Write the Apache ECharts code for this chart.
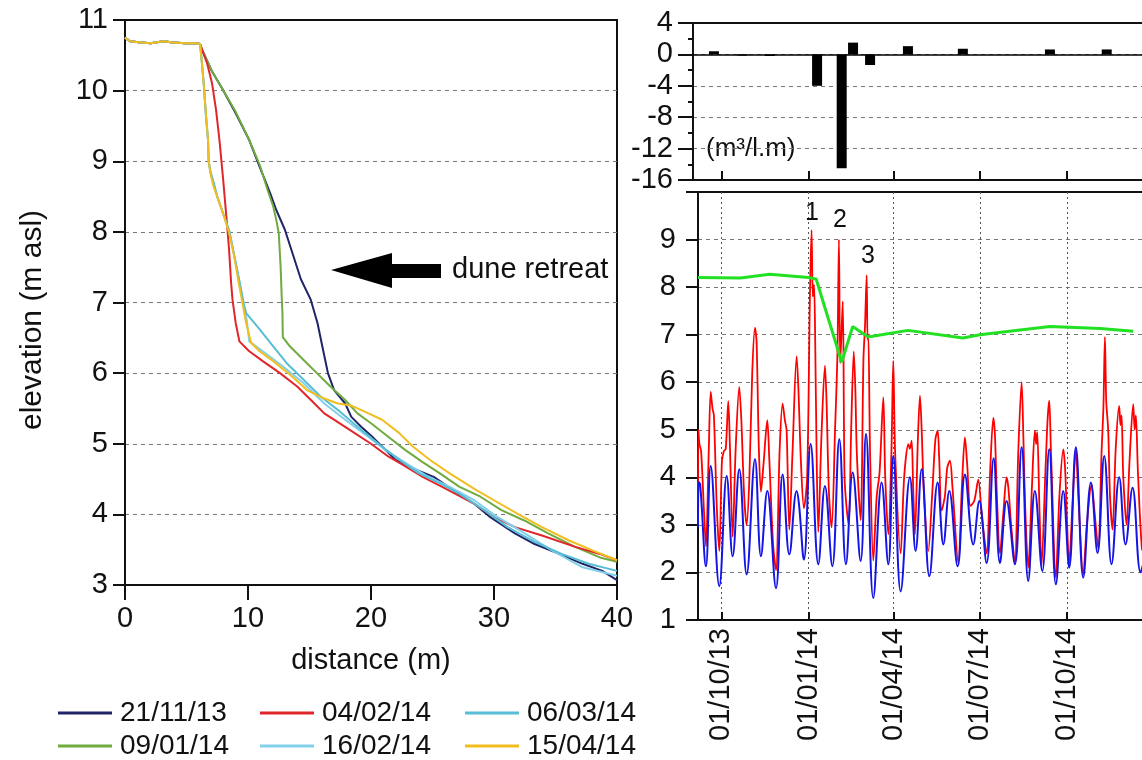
<!DOCTYPE html>
<html>
<head>
<meta charset="utf-8">
<title>Dune retreat</title>
<script src="https://cdn.jsdelivr.net/npm/echarts@6/dist/echarts.min.js"></script>
<style>
  html, body { margin: 0; padding: 0; background: #fff; }
  #chart { width: 1142px; height: 760px; }
</style>
</head>
<body>
<div id="chart"></div>
<script>
// ---- beach profiles: [distance (m), elevation (m asl)] ----
const DUNE_TOP = [[0, 10.75], [0.4, 10.7], [1.3, 10.68], [2.1, 10.67], [3.1, 10.7], [3.9, 10.68], [4.9, 10.67], [5.7, 10.67], [6.1, 10.66]];

const P_211113 = DUNE_TOP.concat([[6.26, 10.58], [7.08, 10.27], [7.9, 10.03], [9.0, 9.68], [10.1, 9.3], [10.95, 8.92], [11.8, 8.55], [12.3, 8.31],
  [13.0, 8.03], [14.3, 7.33], [15.1, 7.04], [15.65, 6.71], [16.1, 6.33], [16.5, 6.0], [17.0, 5.76], [17.9, 5.57], [18.4, 5.38], [19.2, 5.24],
  [20.1, 5.1], [21.2, 4.91], [22.0, 4.77], [23.4, 4.65], [25.1, 4.53], [26.7, 4.34], [28.4, 4.15], [29.7, 3.96], [31.7, 3.73], [33.3, 3.58],
  [35.3, 3.44], [37.2, 3.3], [38.8, 3.2], [40, 3.07]]);

const P_090114 = DUNE_TOP.concat([[6.26, 10.58], [7.08, 10.27], [7.9, 10.03], [9.0, 9.7], [10.1, 9.3], [10.95, 8.95], [11.6, 8.59], [12.05, 8.36],
  [12.3, 8.17], [12.5, 7.98], [12.65, 7.51], [12.75, 7.04], [12.8, 6.85], [12.83, 6.51], [13.4, 6.38], [14.5, 6.19], [15.6, 6.0], [16.7, 5.81],
  [17.9, 5.62], [18.9, 5.43], [20.0, 5.29], [21.4, 5.1], [22.8, 4.91], [24.2, 4.74], [25.6, 4.58], [27.2, 4.39], [28.9, 4.25], [30.6, 4.06],
  [32.5, 3.91], [34.4, 3.73], [36.6, 3.54], [38.6, 3.39], [40, 3.33]]);

const P_040214 = DUNE_TOP.concat([[6.26, 10.58], [6.67, 10.39], [7.08, 10.1], [7.4, 9.73], [7.68, 9.3], [7.96, 8.78], [8.24, 8.22], [8.46, 7.75],
  [8.63, 7.27], [8.74, 7.04], [9.0, 6.71], [9.3, 6.45], [10.1, 6.31], [11.2, 6.17], [12.6, 6.0], [14.0, 5.81], [15.4, 5.57], [16.2, 5.43],
  [17.9, 5.24], [20.0, 5.0], [21.4, 4.82], [22.6, 4.7], [24.2, 4.53], [26.1, 4.36], [28.4, 4.15], [30.0, 3.96], [31.7, 3.82], [33.9, 3.7],
  [36.6, 3.54], [38.6, 3.44], [40, 3.35]]);

const P_160214 = DUNE_TOP.concat([[6.2, 10.5], [6.4, 10.1], [6.6, 9.6], [6.75, 9.3], [6.8, 9.0], [6.95, 8.85], [7.2, 8.7], [7.5, 8.5], [8.0, 8.25],
  [8.5, 8.0], [8.9, 7.65], [9.3, 7.3], [9.6, 7.0], [9.9, 6.75], [10.1, 6.45], [11.2, 6.31], [12.8, 6.1], [14.5, 5.86], [16.2, 5.57], [17.9, 5.34],
  [19.6, 5.12], [21.2, 4.91], [22.9, 4.72], [24.5, 4.55], [26.4, 4.39], [28.4, 4.2], [30.3, 3.96], [32.5, 3.73], [34.7, 3.49], [37.2, 3.25],
  [40, 3.13]]);

const P_060314 = DUNE_TOP.concat([[6.2, 10.5], [6.4, 10.1], [6.6, 9.6], [6.75, 9.3], [6.8, 9.0], [6.95, 8.85], [7.2, 8.7], [7.5, 8.5], [8.0, 8.25],
  [8.5, 8.0], [8.9, 7.65], [9.3, 7.3], [9.7, 6.95], [9.85, 6.85], [10.95, 6.62], [12.05, 6.38], [13.15, 6.14], [14.5, 5.91], [15.9, 5.67],
  [17.3, 5.48], [18.9, 5.24], [20.6, 5.0], [22.3, 4.77], [23.9, 4.58], [25.6, 4.44], [27.2, 4.29], [29.2, 4.06], [31.1, 3.82], [33.3, 3.61],
  [35.5, 3.44], [37.7, 3.3], [40, 3.2]]);

const P_150414 = DUNE_TOP.concat([[6.2, 10.48], [6.4, 10.1], [6.6, 9.63], [6.75, 9.3], [6.8, 9.02], [6.94, 8.83], [7.2, 8.64], [7.6, 8.45],
  [8.05, 8.22], [8.47, 7.98], [8.88, 7.65], [9.25, 7.27], [9.5, 7.04], [9.85, 6.71], [10.25, 6.43], [10.95, 6.31], [12.05, 6.17], [13.4, 5.98],
  [14.8, 5.76], [16.2, 5.64], [17.3, 5.57], [18.4, 5.54], [19.8, 5.43], [20.9, 5.34], [22.3, 5.15], [23.4, 4.96], [24.8, 4.77], [26.4, 4.58],
  [28.4, 4.36], [30.0, 4.2], [32.0, 4.0], [33.9, 3.82], [36.1, 3.63], [38.0, 3.49], [40, 3.35]]);

// ---- time axis: days since 01/10/13 ----
const QUARTER_DAYS = [0, 92, 182, 273, 365];
const QUARTER_LABELS = ['01/10/13', '01/01/14', '01/04/14', '01/07/14', '01/10/14'];

// volume change between surveys (m3/l.m)
const VOLUME_DAYS = [-8, 22, 51, 101, 127, 139, 157, 197, 255, 347, 407];
const VOLUME_CHANGE = [0.4, -0.15, -0.2, -4.0, -14.5, 1.5, -1.35, 1.05, 0.72, 0.63, 0.63];

// total water level (red), [day, m]
const WATER_LEVEL = [[-24.8, 3.4], [-24.4, 5.0], [-23.3, 4.7], [-21.5, 4.55], [-18.5, 3.3], [-16.4, 2.55], [-13.5, 4.5], [-11.4, 5.8],
  [-9.5, 5.45], [-8, 5.3], [-5, 3.4], [-2.3, 2.45], [0.5, 4.35], [2.5, 4.55], [4.5, 4.6], [7.2, 5.6], [9, 4.6], [11.8, 2.75], [15, 4.6],
  [18.8, 5.9], [21, 5.2], [24, 3.6], [26.6, 3.0], [29.5, 4.0], [32.5, 6.2], [35.4, 7.15], [37.1, 6.85], [39.5, 4.6], [41.7, 3.7], [44.5, 4.3],
  [48.4, 5.2], [50.5, 4.4], [54.5, 2.6], [57.6, 2.05], [61.5, 4.6], [64.6, 5.55], [67, 5.2], [68.8, 5.0], [71.7, 2.9], [75, 4.5], [79.4, 6.55],
  [81.2, 5.9], [84, 4.3], [87.1, 3.35], [90.5, 4.0], [93.5, 7.9], [95.2, 9.2], [96.5, 7.8], [97.8, 8.05], [99, 6.9], [100.5, 4.5], [102.3, 2.85],
  [105.5, 4.8], [109.3, 6.35], [111, 5.6], [113.5, 3.7], [116.4, 2.95], [120, 5.0], [122.5, 6.6], [124.1, 9.0], [125.5, 6.4], [128.1, 7.7],
  [130, 4.0], [132.2, 3.36], [134.5, 3.0], [137, 5.0], [139.8, 6.65], [141.5, 5.8], [143, 4.5], [147, 3.1], [150, 6.5], [151.6, 7.16],
  [153.4, 8.25], [154.3, 6.9], [155.1, 7.0], [157, 4.5], [160.4, 2.25], [164, 3.6], [167, 4.1], [171, 5.68], [173, 4.0], [176.3, 2.8],
  [179.5, 4.5], [181.5, 6.45], [183.5, 4.5], [189.3, 2.4], [193, 4.0], [197.4, 4.7], [199, 4.6], [200.9, 4.77], [202.5, 3.8], [204.4, 2.8],
  [207.5, 4.8], [209.7, 5.72], [211.5, 5.0], [214, 3.6], [218.5, 2.45], [222.5, 3.6], [226, 4.8], [228.4, 4.98], [230, 4.4], [232.6, 3.3],
  [236, 3.6], [238.5, 4.2], [241.4, 4.35], [244, 3.8], [250.2, 2.2], [254, 3.8], [257.2, 4.84], [259.5, 4.3], [263, 3.4], [267, 3.5],
  [271.3, 3.95], [275, 3.2], [280.1, 2.4], [284, 4.2], [287.2, 5.25], [288.9, 4.9], [291, 3.6], [294.2, 2.4], [298, 3.3], [301.2, 4.0],
  [303, 3.8], [306, 3.0], [310, 2.2], [313.5, 4.5], [317.1, 6.0], [319, 4.8], [321, 3.3], [324.1, 2.1], [328, 3.8], [331.1, 4.98], [332.5, 4.7],
  [333.6, 4.95], [336, 3.3], [338.2, 2.15], [342, 4.0], [344.5, 5.2], [346.3, 5.61], [348, 4.6], [353.3, 1.9], [357, 3.6], [361.1, 4.59],
  [363, 4.2], [367.4, 2.2], [371, 3.5], [374.4, 4.6], [377, 3.6], [382.2, 1.95], [386, 3.0], [391, 3.85], [394, 3.3], [398, 2.5], [401.5, 4.5],
  [403.5, 5.47], [405.1, 6.95], [406.5, 5.6], [408.6, 4.98], [410.5, 3.6], [413.2, 2.9], [416.5, 4.6], [420.2, 5.5], [421.5, 5.1], [422.7, 5.3],
  [424.5, 4.0], [428, 3.0], [431, 4.3], [435, 5.54], [436.5, 5.0], [437.8, 5.3], [440, 4.1], [444.2, 2.5], [447, 2.4]];

// tide level (blue), [day, m]
const TIDE_LEVEL = [[-24.8, 2.95], [-24.2, 3.9], [-22.5, 3.85], [-16.4, 2.13], [-11.4, 4.24], [-2.3, 1.71], [5.5, 4.03], [11.8, 2.34],
  [18.8, 4.17], [26.6, 1.96], [35.4, 4.38], [41.7, 2.34], [48.4, 3.71], [57.6, 1.67], [64.6, 4.06], [71.7, 2.38], [79.4, 3.71], [81.9, 3.43],
  [87.1, 2.27], [94.2, 4.7], [102.3, 2.17], [109.3, 3.82], [117.1, 2.13], [124.5, 4.8], [131.5, 2.17], [138.6, 4.1], [147, 2.24], [152.7, 4.91],
  [160.4, 1.46], [169.2, 3.89], [176.3, 2.17], [181.5, 4.45], [189.3, 1.6], [199.1, 4.0], [205.1, 2.45], [211.5, 4.17], [219.6, 1.92],
  [228.4, 3.89], [234.4, 2.59], [240.7, 3.71], [249.5, 2.13], [257.2, 4.06], [266, 2.59], [272.4, 3.5], [280.1, 2.2], [287.5, 4.4],
  [294.2, 2.2], [301.2, 3.5], [310, 2.17], [317.1, 4.63], [324.1, 1.82], [331.1, 3.71], [338.9, 2.03], [346.3, 4.59], [353.3, 1.75],
  [361.1, 3.71], [367.4, 2.1], [374.4, 4.63], [382.2, 1.89], [390.3, 3.89], [397.3, 2.41], [404.4, 4.45], [412.1, 2.17], [420.2, 4.0],
  [426.9, 2.59], [434.3, 3.78], [442.8, 2.0], [447, 2.3]];

// dune toe elevation (green), [day, m]
const DUNE_TOE = [[-24.8, 8.2], [20, 8.19], [51, 8.27], [92, 8.2], [100, 8.17], [127, 6.42], [138.6, 7.17], [155, 6.95], [197, 7.09],
  [255, 6.93], [273, 7.0], [347, 7.17], [400, 7.13], [435, 7.07]];

// storm labels
const STORMS = [['1', 95.5, 9.55], ['2', 125.2, 9.4], ['3', 154.8, 8.65]];

const FONT = 'Liberation Sans, Arial, sans-serif';
const INK = '#111';
const FS = 29;

const profiles = [
  { name: '21/11/13', data: P_211113, color: '#1f2566' },
  { name: '09/01/14', data: P_090114, color: '#6fab3f' },
  { name: '04/02/14', data: P_040214, color: '#e0262b' },
  { name: '16/02/14', data: P_160214, color: '#82d0ea' },
  { name: '06/03/14', data: P_060314, color: '#58bdd6' },
  { name: '15/04/14', data: P_150414, color: '#f2bd1e' }
];

// legend slots: [name, left, top]
const legendSlots = [
  ['21/11/13', 58, 699], ['04/02/14', 260, 699], ['06/03/14', 465, 699],
  ['09/01/14', 58, 732], ['16/02/14', 260, 732], ['15/04/14', 465, 732]
];

const chart = echarts.init(document.getElementById('chart'));

const axisLine = { show: true, onZero: false, lineStyle: { color: INK, width: 2 } };
const labelFont = { fontSize: FS, color: INK, fontFamily: FONT };
const dashed = { show: true, showMinLine: false, showMaxLine: false, lineStyle: { color: '#777', type: [4, 4], width: 1 } };

const option = {
  animation: false,
  textStyle: { fontFamily: FONT },
  grid: [
    { left: 125, top: 20, width: 492, height: 565, show: true, borderColor: INK, borderWidth: 2, outerBoundsMode: 'none' },
    { left: 693, top: 23, width: 460, height: 157, show: true, borderColor: INK, borderWidth: 2, outerBoundsMode: 'none' },
    { left: 698, top: 192, width: 455, height: 428, show: true, borderColor: INK, borderWidth: 2, outerBoundsMode: 'none' }
  ],
  legend: legendSlots.map(([name, left, top]) => ({
    data: [name], left: left, top: top, padding: 0, icon: 'rect', itemWidth: 54, itemHeight: 3, itemGap: 0,
    textStyle: { fontSize: 28, color: INK, fontFamily: FONT, padding: [0, 0, 0, 3] }, selectedMode: false
  })),
  xAxis: [
    {
      gridIndex: 0, type: 'value', min: 0, max: 40, interval: 10,
      axisLine: axisLine, axisTick: { length: 15, lineStyle: { color: INK, width: 2 } },
      axisLabel: Object.assign({ margin: 19 }, labelFont), splitLine: { show: false },
      name: 'distance (m)', nameLocation: 'middle', nameGap: 61, nameTextStyle: labelFont
    },
    {
      gridIndex: 1, type: 'value', min: -30.1, max: 455.9,
      axisLine: axisLine, axisTick: { inside: true, length: 9, customValues: QUARTER_DAYS, lineStyle: { color: INK, width: 2 } },
      axisLabel: { show: false }, splitLine: { show: false }
    },
    {
      gridIndex: 2, type: 'value', min: -24.8, max: 455.9,
      axisLine: axisLine, axisTick: { inside: true, length: 8, customValues: QUARTER_DAYS, lineStyle: { color: INK, width: 2 } },
      axisLabel: Object.assign({
        customValues: QUARTER_DAYS, rotate: 90, margin: 8,
        formatter: v => QUARTER_LABELS[QUARTER_DAYS.indexOf(v)] || ''
      }, labelFont),
      splitLine: { show: true, lineStyle: { color: '#555', type: [2, 3], width: 1 } }
    }
  ],
  yAxis: [
    {
      gridIndex: 0, type: 'value', min: 3, max: 11, interval: 1,
      axisLine: axisLine, axisTick: { length: 12, lineStyle: { color: INK, width: 2 } },
      axisLabel: Object.assign({ margin: 17 }, labelFont), splitLine: dashed
    },
    {
      gridIndex: 1, type: 'value', min: -16, max: 4, interval: 4,
      axisLine: axisLine, axisTick: { length: 15, lineStyle: { color: INK, width: 2 } },
      minorTick: { show: true, splitNumber: 2, length: 5, lineStyle: { color: INK, width: 2 } },
      axisLabel: Object.assign({ margin: 20 }, labelFont), splitLine: dashed
    },
    {
      gridIndex: 2, type: 'value', min: 1, max: 10, interval: 1,
      axisLine: axisLine, axisTick: { length: 12, lineStyle: { color: INK, width: 2 } },
      axisLabel: Object.assign({ margin: 22, formatter: v => (v === 10 ? '' : String(v)) }, labelFont),
      splitLine: dashed
    }
  ],
  series: profiles.map(p => ({
    name: p.name, type: 'line', xAxisIndex: 0, yAxisIndex: 0, data: p.data,
    symbol: 'none', color: p.color, lineStyle: { color: p.color, width: 2 }
  })).concat([
    {
      type: 'bar', xAxisIndex: 1, yAxisIndex: 1, barWidth: 10,
      data: VOLUME_DAYS.map((d, i) => [d, VOLUME_CHANGE[i]]),
      itemStyle: { color: '#000' },
      markLine: {
        silent: true, symbol: 'none', label: { show: false },
        lineStyle: { color: '#000', type: 'solid', width: 1.5 }, data: [{ yAxis: 0 }]
      }
    },
    {
      type: 'line', xAxisIndex: 2, yAxisIndex: 2, data: WATER_LEVEL, symbol: 'none', smooth: 0.3,
      lineStyle: { color: '#ff0000', width: 1.8 }
    },
    {
      type: 'line', xAxisIndex: 2, yAxisIndex: 2, data: TIDE_LEVEL, symbol: 'none', smooth: 0.4,
      lineStyle: { color: '#1414e6', width: 2 }
    },
    {
      type: 'line', xAxisIndex: 2, yAxisIndex: 2, data: DUNE_TOE, symbol: 'none',
      lineStyle: { color: '#22e022', width: 3 },
      markPoint: {
        symbol: 'circle', symbolSize: 1, itemStyle: { color: 'rgba(0,0,0,0)' },
        label: { show: true, position: 'inside', fontSize: 25, color: INK, fontFamily: FONT, formatter: p => p.name },
        data: STORMS.map(s => ({ name: s[0], coord: [s[1], s[2]] }))
      }
    }
  ]),
  graphic: [
    {
      type: 'text', x: 33, y: 320, rotation: Math.PI / 2,
      style: { text: 'elevation (m asl)', fontSize: 30, fontFamily: FONT, fill: INK, align: 'center', verticalAlign: 'middle' }
    },
    {
      type: 'polygon',
      shape: { points: [[331, 270], [392, 253], [392, 264], [441, 264], [441, 278], [392, 278], [392, 288]] },
      style: { fill: '#000' }
    },
    {
      type: 'text', x: 452, y: 270,
      style: { text: 'dune retreat', fontSize: FS, fontFamily: FONT, fill: INK, align: 'left', verticalAlign: 'middle' }
    },
    {
      type: 'text', x: 706, y: 149,
      style: { text: '(m³/l.m)', fontSize: 26, fontFamily: FONT, fill: INK, align: 'left', verticalAlign: 'middle' }
    }
  ]
};

chart.setOption(option);
</script>
</body>
</html>
